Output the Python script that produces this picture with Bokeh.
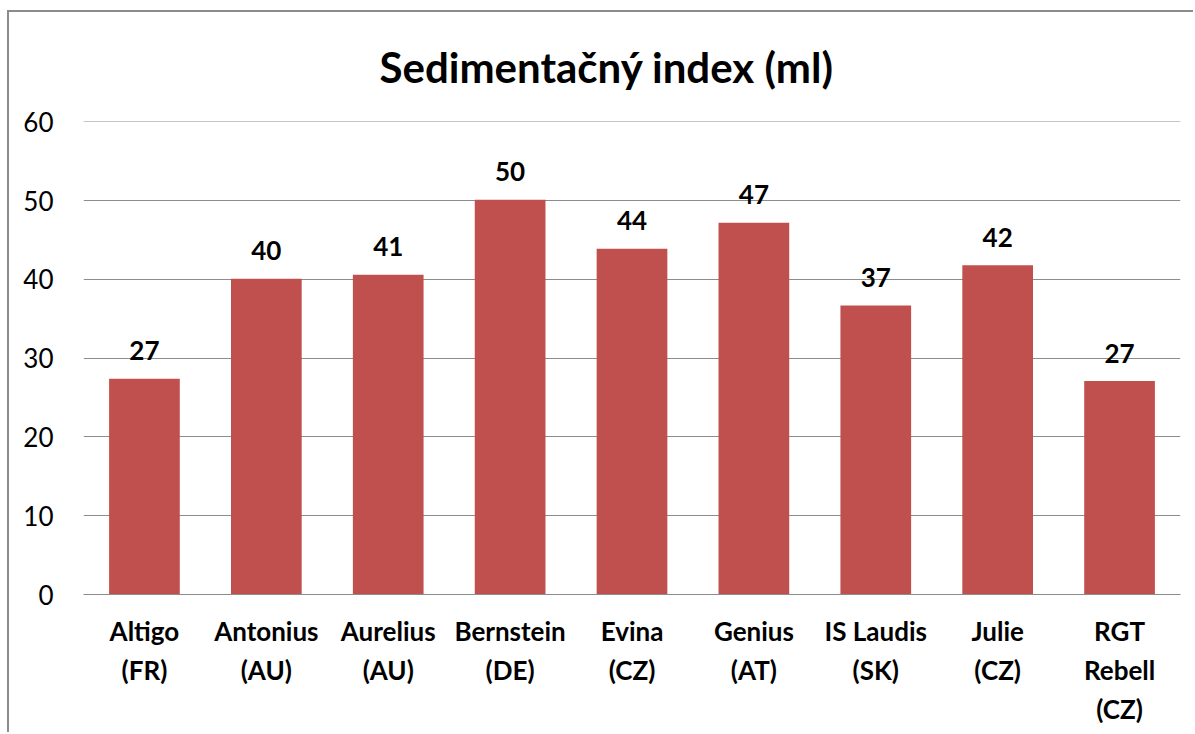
from bokeh.plotting import figure
from bokeh.models import Range1d, FactorRange, FixedTicker, Title, ColumnDataSource
from bokeh.core.properties import value
from bokeh.embed import file_html
from bokeh.resources import INLINE

varieties = ["Altigo\n(FR)", "Antonius\n(AU)", "Aurelius\n(AU)", "Bernstein\n(DE)", "Evina\n(CZ)",
             "Genius\n(AT)", "IS Laudis\n(SK)", "Julie\n(CZ)", "RGT\nRebell\n(CZ)"]
sed_index = [27.4, 40.1, 40.6, 50.1, 43.9, 47.2, 36.7, 41.8, 27.1]
value_labels = ["27", "40", "41", "50", "44", "47", "37", "42", "27"]
y_ticks = [0, 10, 20, 30, 40, 50, 60]
title_text = "Sedimentačný index (ml)"

FONT = "Lato"
BAR = "#C0504D"
GRID = "#8c8c8c"

src = ColumnDataSource(dict(x=varieties, top=sed_index, lab=value_labels))

p = figure(width=1186, height=722, x_range=FactorRange(*varieties), y_range=Range1d(0, 60.05),
           output_backend="svg", toolbar_location=None, title=None,
           min_border_left=74, min_border_right=15, min_border_top=109, min_border_bottom=140)
p.styles = {"border-left": "2px solid #8c8c8c", "border-top": "2px solid #8c8c8c",
            "margin-top": "10px", "margin-left": "7px"}
p.x_range.range_padding = 0
p.outline_line_color = None
p.background_fill_color = "white"
p.border_fill_color = "white"

p.add_layout(Title(text=title_text, align="left", offset=296, standoff=56, vertical_align="top",
                   text_font=FONT, text_font_size="42px", text_font_style="bold",
                   text_color="black"), "above")

p.vbar(x="x", top="top", width=0.58, source=src, fill_color=BAR, line_color=None)
p.text(x="x", y="top", text="lab", source=src, text_align="center", text_baseline="alphabetic",
       y_offset=-28, text_font=value(FONT), text_font_size="26px", text_font_style="bold",
       text_color="black")

p.xgrid.grid_line_color = None
p.ygrid.grid_line_color = GRID
p.ygrid.grid_line_width = 1
p.ygrid.ticker = FixedTicker(ticks=y_ticks)

p.yaxis.ticker = FixedTicker(ticks=y_ticks)
p.yaxis.axis_line_color = None
p.yaxis.major_tick_line_color = None
p.yaxis.minor_tick_line_color = None
p.yaxis.major_tick_out = 0
p.yaxis.major_tick_in = 0
p.yaxis.major_label_standoff = 30
p.yaxis.major_label_text_font = FONT
p.yaxis.major_label_text_font_size = "26px"
p.yaxis.major_label_text_color = "black"

xax = p.below[0]
xax.axis_line_color = GRID
xax.axis_line_width = 1
xax.major_tick_line_color = None
xax.minor_tick_line_color = None
xax.major_tick_out = 0
xax.major_tick_in = 0
xax.major_label_standoff = 20
xax.major_label_text_font = FONT
xax.major_label_text_font_size = "26px"
xax.major_label_text_font_style = "bold"
xax.major_label_text_color = "black"
xax.major_label_text_line_height = 1.22
xax.major_label_orientation = "horizontal"

open("out.html", "w").write(file_html(p, INLINE))
